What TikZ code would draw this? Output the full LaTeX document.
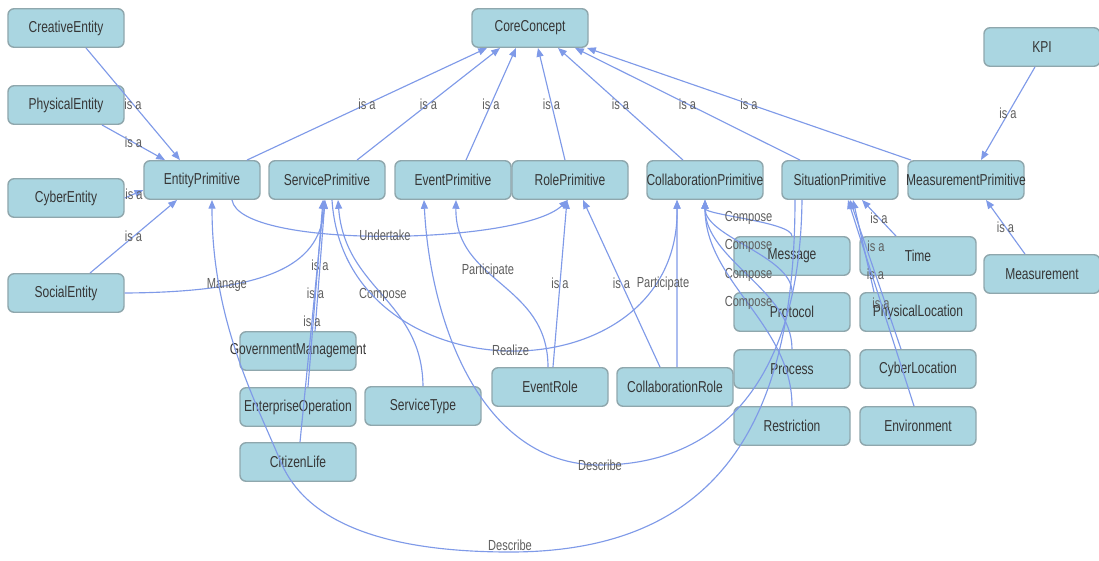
\documentclass[tikz,border=0pt]{standalone}
\usepackage{fontspec}
\setmainfont{Liberation Sans}[FakeStretch=0.76]
\usetikzlibrary{arrows.meta}
\definecolor{boxfill}{HTML}{AAD6E1}
\definecolor{boxline}{HTML}{8FA7AD}
\definecolor{reln}{HTML}{7F9AE8}
\definecolor{lbl}{HTML}{5E5E5E}
\definecolor{boxtext}{HTML}{363636}
\begin{document}
\begin{tikzpicture}[x=0.2mm,y=-0.2mm,
  cls/.style={draw=boxline,fill=boxfill,rounded corners=1.2mm,line width=.8pt,
    minimum width=23.2mm,minimum height=7.7mm,inner sep=0pt,text=boxtext,
    font=\fontsize{9}{10}\selectfont},
  lab/.style={text=lbl,inner sep=0pt,font=\fontsize{8.3}{9}\selectfont},
  rel/.style={draw=reln,line width=.65pt,-{Triangle[length=5pt,width=4pt]},nodes={lab}}
]
    \useasboundingbox (0,0) rectangle (1099,560);
    \node[cls] (core) at (530,28) {CoreConcept};
    \node[cls] (crea) at (66,28) {CreativeEntity};
    \node[cls] (phys) at (66,105) {PhysicalEntity};
    \node[cls] (cyb) at (66,198) {CyberEntity};
    \node[cls] (soc) at (66,293) {SocialEntity};
    \node[cls] (kpi) at (1042,47) {KPI};
    \node[cls] (entp) at (202,180) {EntityPrimitive};
    \node[cls] (svcp) at (327,180) {ServicePrimitive};
    \node[cls] (evtp) at (453,180) {EventPrimitive};
    \node[cls] (rolep) at (570,180) {RolePrimitive};
    \node[cls] (colp) at (705,180) {\makebox[0pt]{CollaborationPrimitive}};
    \node[cls] (sitp) at (840,180) {SituationPrimitive};
    \node[cls] (msrp) at (966,180) {\makebox[0pt]{MeasurementPrimitive}};
    \node[cls] (meas) at (1042,274) {Measurement};
    \node[cls] (msg) at (792,256) {Message};
    \node[cls] (tim) at (918,256) {Time};
    \node[cls] (prot) at (792,312) {Protocol};
    \node[cls] (ploc) at (918,312) {PhysicalLocation};
    \node[cls] (proc) at (792,369) {Process};
    \node[cls] (cloc) at (918,369) {CyberLocation};
    \node[cls] (restr) at (792,426) {Restriction};
    \node[cls] (env) at (918,426) {Environment};
    \node[cls] (evrole) at (550,387) {EventRole};
    \node[cls] (colrole) at (675,387) {CollaborationRole};
    \node[cls] (gov) at (298,351) {\makebox[0pt]{GovernmentManagement}};
    \node[cls] (entop) at (298,407) {EnterpriseOperation};
    \node[cls] (stype) at (423,406) {ServiceType};
    \node[cls] (life) at (298,462) {CitizenLife};
    \draw[rel] ([xshift=9mm]entp.north) -- node{is a} ([xshift=-8.6mm]core.south);
    \draw[rel] ([xshift=6mm]svcp.north) -- node{is a} ([xshift=-6mm]core.south);
    \draw[rel] ([xshift=2.6mm]evtp.north) -- node{is a} ([xshift=-2.8mm]core.south);
    \draw[rel] ([xshift=-1mm]rolep.north) -- node{is a} ([xshift=1.6mm]core.south);
    \draw[rel] ([xshift=-4.4mm]colp.north) -- node{is a} ([xshift=5.6mm]core.south);
    \draw[rel] ([xshift=-8mm]sitp.north) -- node{is a} ([xshift=9mm]core.south);
    \draw[rel] ([xshift=-11mm]msrp.north) -- node{is a} ([xshift=11.4mm]core.south);
    \draw[rel] ([xshift=4mm]crea.south) -- node{is a} ([xshift=-4.4mm]entp.north);
    \draw[rel] ([xshift=7.2mm]phys.south) -- node{is a} ([xshift=-7.4mm]entp.north);
    \draw[rel] (cyb.east) -- node{is a} ([yshift=-2mm]entp.west);
    \draw[rel] ([xshift=4.8mm]soc.north) -- node{is a} ([xshift=-5mm]entp.south);
    \draw[rel] ([xshift=-1.4mm]kpi.south) -- node{is a} ([xshift=3mm]msrp.north);
    \draw[rel] ([xshift=-3.4mm]meas.north) -- node{is a} ([xshift=4mm]msrp.south);
    \draw[rel] ([xshift=3.4mm]gov.north) -- node{is a} ([xshift=-.4mm]svcp.south);
    \draw[rel] ([xshift=2mm]entop.north) -- node{is a} ([xshift=-.8mm]svcp.south);
    \draw[rel] ([xshift=.4mm]life.north) -- node{is a} ([xshift=-.6mm]svcp.south);
    \draw[rel] (stype.north) .. controls (422,300) and (345,290) .. node{Compose} ([xshift=2.2mm]svcp.south);
    \draw[rel] (soc.east) .. controls (280,292) and (320,260) .. node[pos=.27]{Manage} ([xshift=-.4mm]svcp.south);
    \draw[rel] ([xshift=6mm]entp.south) .. controls (240,250) and (520,245) .. node{Undertake} ([xshift=-.4mm]rolep.south);
    \draw[rel] ([xshift=1mm]svcp.south) .. controls (345,400) and (680,400) .. node{Realize} ([xshift=-5.6mm]colp.south);
    \draw[rel] ([xshift=.4mm]colrole.north) -- node[xshift=-2.8mm]{Participate} ([xshift=-5.6mm]colp.south);
    \draw[rel] ([xshift=-3mm]colrole.north) -- node{is a} ([xshift=2.6mm]rolep.south);
    \draw[rel] ([xshift=.6mm]evrole.north) -- node{is a} ([xshift=-.6mm]rolep.south);
    \draw[rel] ([xshift=-.4mm]evrole.north) .. controls (548,283) and (455,283) .. node[pos=.6]{Participate} ([xshift=.6mm]evtp.south);
    \draw[rel] (msg.north) .. controls (792,222) and (705,215) .. node{Compose} (colp.south);
    \draw[rel] (prot.north) .. controls (792,256) and (705,237) .. node{Compose} (colp.south);
    \draw[rel] (proc.north) .. controls (792,290) and (705,260) .. node{Compose} (colp.south);
    \draw[rel] (restr.north) .. controls (792,324) and (705,282) .. node{Compose} (colp.south);
    \draw[rel] ([xshift=-4.4mm]tim.north) -- node{is a} ([xshift=4.4mm]sitp.south);
    \draw[rel] ([xshift=-8.8mm]ploc.north) -- node[xshift=2.5mm]{is a} ([xshift=2.6mm]sitp.south);
    \draw[rel] ([xshift=-3.4mm]cloc.north) -- node{is a} ([xshift=2mm]sitp.south);
    \draw[rel] ([xshift=-.8mm]env.north) -- node{is a} ([xshift=1.6mm]sitp.south);
    \draw[rel] ([xshift=-7.6mm]sitp.south) .. controls (800,380) and (720,465) .. (600,465) node{Describe}
      .. controls (480,465) and (430,320) .. ([xshift=-5.8mm]evtp.south);
    \draw[rel] ([xshift=-9mm]sitp.south) .. controls (795,420) and (720,552) .. (510,552) node[yshift=1.4mm]{Describe}
      .. controls (360,552) and (300,510) .. (280,460) .. controls (255,400) and (212,320) .. ([xshift=2mm]entp.south);
\end{tikzpicture}
\end{document}
